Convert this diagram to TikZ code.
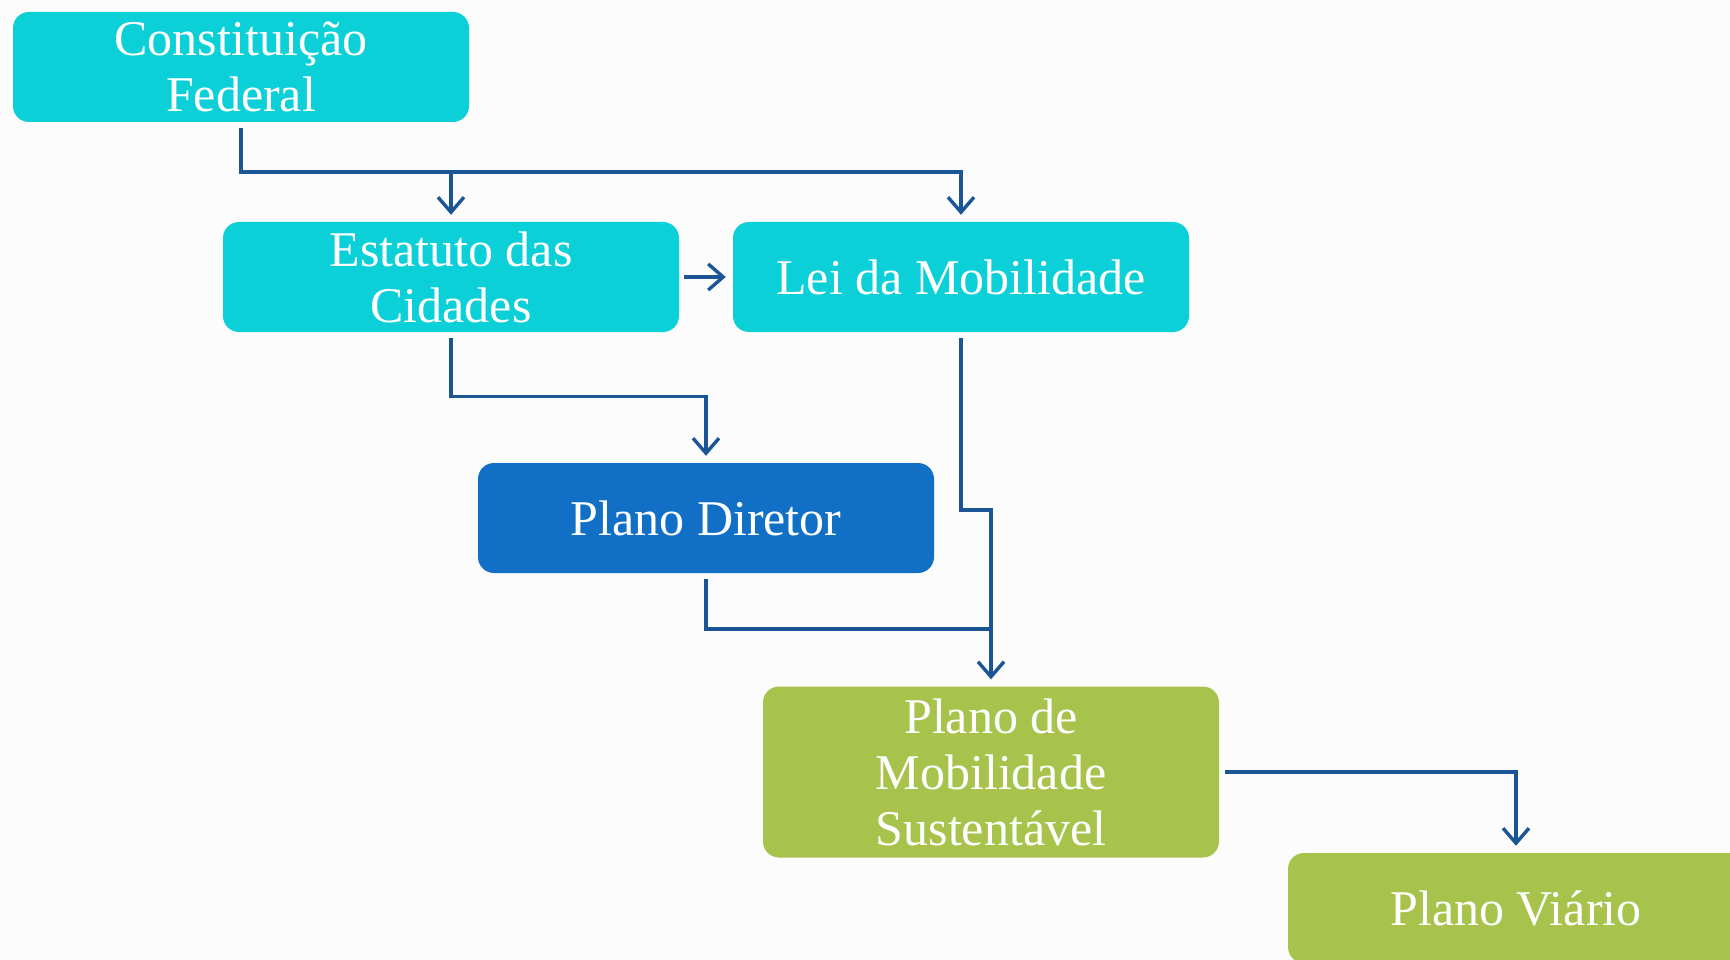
\documentclass[tikz,border=0pt]{standalone}
\usepackage{fontspec}
\setmainfont{Liberation Serif}
\usepackage{tikz}
\usetikzlibrary{positioning, arrows.meta, calc}

\definecolor{boxcyan}{HTML}{0CD0D8}
\definecolor{boxblue}{HTML}{1170C6}
\definecolor{boxgreen}{HTML}{A8C34B}
\definecolor{linkblue}{HTML}{1A5596}
\definecolor{paper}{HTML}{FCFCFC}

\tikzset{
  box/.style={rounded corners=16pt, minimum width=456pt, minimum height=110pt,
    inner sep=0pt, align=center, text=white, font=\fontsize{50}{56}\selectfont},
  cyanbox/.style={box, fill=boxcyan},
  bluebox/.style={box, fill=boxblue},
  greenbox/.style={box, fill=boxgreen},
  link/.style={draw=linkblue, line width=3.4pt},
  arr/.style={link, -{Straight Barb[length=15pt,width=26pt]}, shorten >=7pt},
}

\begin{document}
\begin{tikzpicture}[x=1pt,y=1pt]
\fill[paper] (0,0) rectangle (1730,-960);
\clip (0,0) rectangle (1730,-960);

% boxes
\node[cyanbox] (cf) at (241,-67) {Constituição\\Federal};
\node[cyanbox] (est) at (451,-277) {Estatuto das\\Cidades};
\node[cyanbox] (lei) at (961,-277) {Lei da Mobilidade};
\node[bluebox] (pd) at (706,-518) {Plano Diretor};
\node[greenbox, minimum height=171pt] (pms) at (991,-772) {Plano de\\Mobilidade\\Sustentável};
\node[greenbox] (pv) at (1516,-908) {Plano Viário};

% junctions
\coordinate (j1) at (451,-172);
\coordinate (j2) at (991,-510);
\coordinate (j3) at (991,-629);

% connectors
\draw[arr, shorten <=6pt] (cf.south) |- (j1) -| (lei.north);
\draw[arr] (j1) -- (est.north);
\draw[arr, shorten <=5pt] (est.east) -- (lei.west);
\draw[arr, shorten <=6pt] (est.south) -- ++(0,-64) -| (pd.north);
\draw[arr, shorten <=6pt] (lei.south) |- (j2) -- (pms.north);
\draw[link, shorten <=6pt] (pd.south) |- (j3);
\draw[arr, shorten <=6pt] (pms.east) -| (pv.north);
\end{tikzpicture}
\end{document}
